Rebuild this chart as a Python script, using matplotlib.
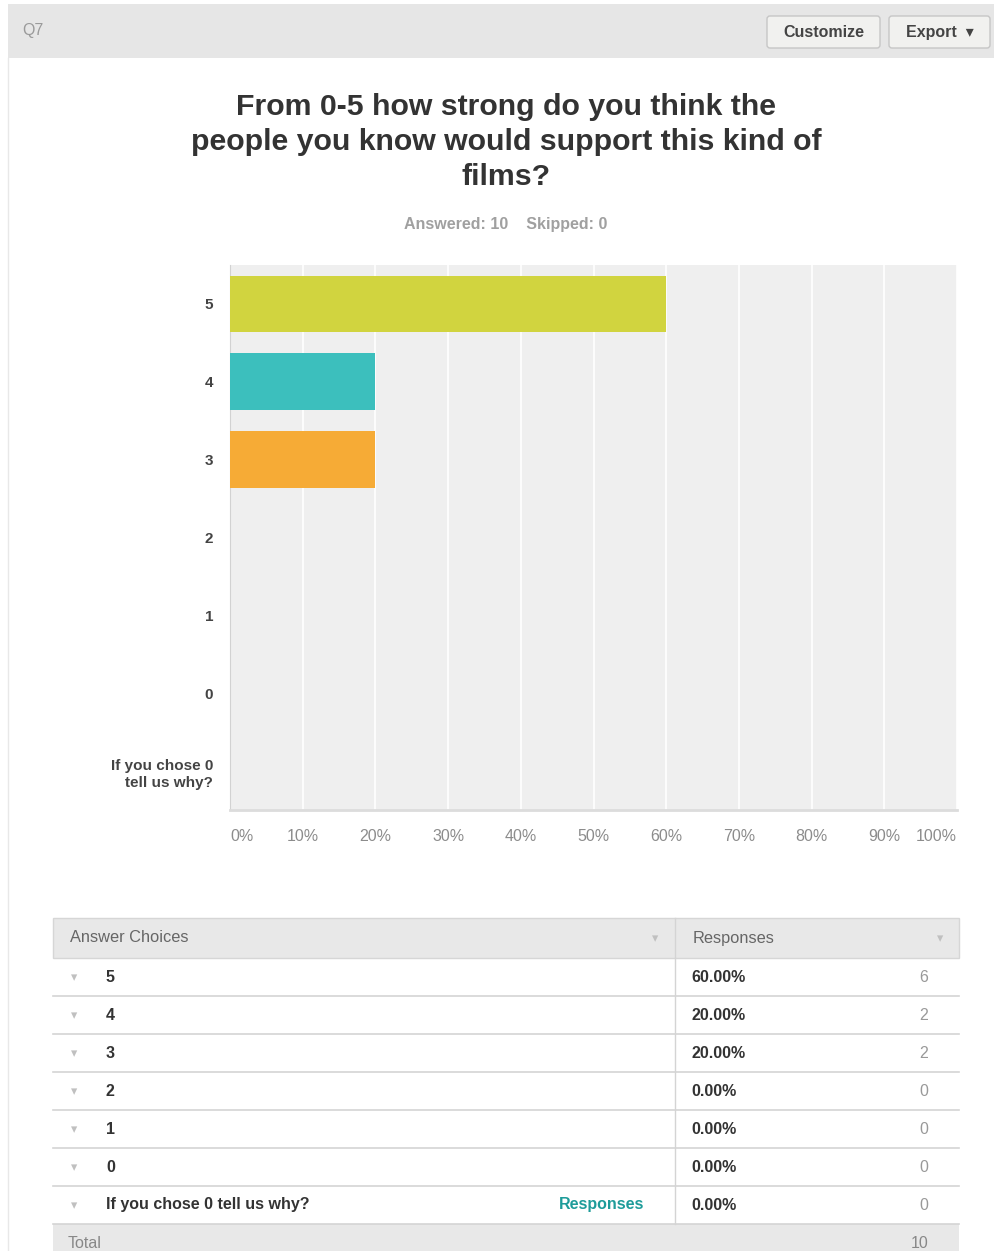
import matplotlib
matplotlib.use("Agg")
import matplotlib.pyplot as plt
from matplotlib.patches import Rectangle, FancyBboxPatch

plt.rcParams['font.family'] = ['Liberation Sans', 'DejaVu Sans']

# ---- data ----
question_id = "Q7"
title_lines = ["From 0-5 how strong do you think the",
               "people you know would support this kind of",
               "films?"]
answered = 10
skipped = 0
categories = ["5", "4", "3", "2", "1", "0", "If you chose 0\ntell us why?"]
table_labels = ["5", "4", "3", "2", "1", "0", "If you chose 0 tell us why?"]
percents = [60.0, 20.0, 20.0, 0.0, 0.0, 0.0, 0.0]
counts = [6, 2, 2, 0, 0, 0, 0]
bar_colors = ["#d1d43f", "#3cbfbd", "#f6ab36", "#999999", "#999999", "#999999", "#999999"]
xticks = [0, 10, 20, 30, 40, 50, 60, 70, 80, 90, 100]
total = 10

W, H = 994, 1251
fig = plt.figure(figsize=(W / 100, H / 100), dpi=100)
fig.patch.set_facecolor("white")

# overlay in pixel coords
ov = fig.add_axes([0, 0, 1, 1], zorder=0)
ov.set_xlim(0, W)
ov.set_ylim(H, 0)
ov.axis("off")

# header bar
ov.add_patch(Rectangle((8, 4), W - 8, 54, facecolor="#e6e6e6", edgecolor="none"))
ov.plot([8, 8], [58, H], color="#e8e8e8", lw=1)
ov.text(22, 31, question_id, fontsize=11.5, color="#9a9a9a", va="center", ha="left")
for (x0, x1, label) in [(767, 880, "Customize"), (889, 990, "Export  \u25be")]:
    ov.add_patch(FancyBboxPatch((x0, 16), x1 - x0, 32,
                                boxstyle="round,pad=0,rounding_size=3",
                                facecolor="#f1f1ef", edgecolor="#c6c6c6", lw=1))
    ov.text((x0 + x1) / 2, 32.5, label, fontsize=11.5, fontweight="bold",
            color="#444444", ha="center", va="center",
            family=["Liberation Sans", "DejaVu Sans"])

# title
for i, line in enumerate(title_lines):
    ov.text(506, 107 + 35 * i, line, fontsize=21.8, fontweight="bold",
            color="#333333", ha="center", va="center")
ov.text(506, 224, f"Answered: {answered}    Skipped: {skipped}", fontsize=11.5,
        fontweight="bold", color="#a0a0a0", ha="center", va="center")

# ---- chart ----
left, right, top, bottom = 230, 957, 265, 810
ax = fig.add_axes([left / W, 1 - bottom / H, (right - left) / W, (bottom - top) / H], zorder=2)
ax.set_facecolor("#efefef")
ypos = list(range(len(categories)))
ax.barh(ypos, percents, height=0.73, color=bar_colors, zorder=3)
ax.set_xlim(0, 100)
ax.set_ylim(len(categories) - 0.5, -0.5)
ax.set_xticks(xticks)
ax.set_xticklabels([f"{t}%" for t in xticks], fontsize=11.5, color="#8c8c8c")
labs = ax.get_xticklabels()
labs[0].set_ha("left")
labs[-1].set_ha("right")
ax.set_yticks(ypos)
ax.set_yticklabels(categories, fontsize=11, fontweight="bold", color="#444444",
                   linespacing=1.3)
ax.tick_params(axis="both", length=0, pad=14)
ax.tick_params(axis="y", pad=12)
ax.grid(axis="x", color="white", lw=1.2, zorder=1)
ax.set_axisbelow(True)
for s in ["top", "right"]:
    ax.spines[s].set_visible(False)
ax.spines["left"].set_color("#d2d2d2")
ax.spines["bottom"].set_color("#dcdcdc")
ax.spines["bottom"].set_linewidth(2)

# ---- table ----
tx0, tx1, tdiv = 53, 959, 675
hy0, hy1 = 918, 958
rh = 38
ov.add_patch(Rectangle((tx0, hy0), tx1 - tx0, hy1 - hy0, facecolor="#e8e8e8",
                       edgecolor="#d6d6d6", lw=1))
ov.text(70, 938, "Answer Choices", fontsize=11.8, color="#666666", va="center")
ov.text(693, 938, "Responses", fontsize=11.8, color="#666666", va="center")
ov.text(655, 939, "\u25be", fontsize=9, color="#c0c0c0", va="center", ha="center",
        family=["DejaVu Sans"])
ov.text(940, 939, "\u25be", fontsize=9, color="#c0c0c0", va="center", ha="center",
        family=["DejaVu Sans"])
for i, lab in enumerate(table_labels):
    y0 = hy1 + i * rh
    yc = y0 + rh / 2
    ov.plot([tx0, tx1], [y0 + rh, y0 + rh], color="#d4d4d4", lw=1.2)
    ov.text(74, yc + 1, "\u25be", fontsize=9, color="#c0c0c0", va="center",
            ha="center", family=["DejaVu Sans"])
    ov.text(106, yc, lab, fontsize=11.5, fontweight="bold", color="#333333", va="center")
    ov.text(691, yc, f"{percents[i]:.2f}%", fontsize=11.5, fontweight="bold",
            color="#333333", va="center")
    ov.text(928, yc, f"{counts[i]}", fontsize=11.5, color="#999999", va="center", ha="right")
    if i == len(table_labels) - 1:
        ov.text(644, yc, "Responses", fontsize=11.5, fontweight="bold", color="#1e9c9a",
                va="center", ha="right")
ov.plot([tdiv, tdiv], [hy0, hy1 + rh * len(table_labels)], color="#d4d4d4", lw=1)
ty0 = hy1 + rh * len(table_labels)
ov.add_patch(Rectangle((tx0, ty0), tx1 - tx0, H - ty0, facecolor="#e8e8e8", edgecolor="none"))
ov.text(68, ty0 + 19, "Total", fontsize=11.5, color="#888888", va="center")
ov.text(928, ty0 + 19, f"{total}", fontsize=11.5, color="#888888", va="center", ha="right")

fig.savefig("out.png", dpi=100, facecolor="white")
